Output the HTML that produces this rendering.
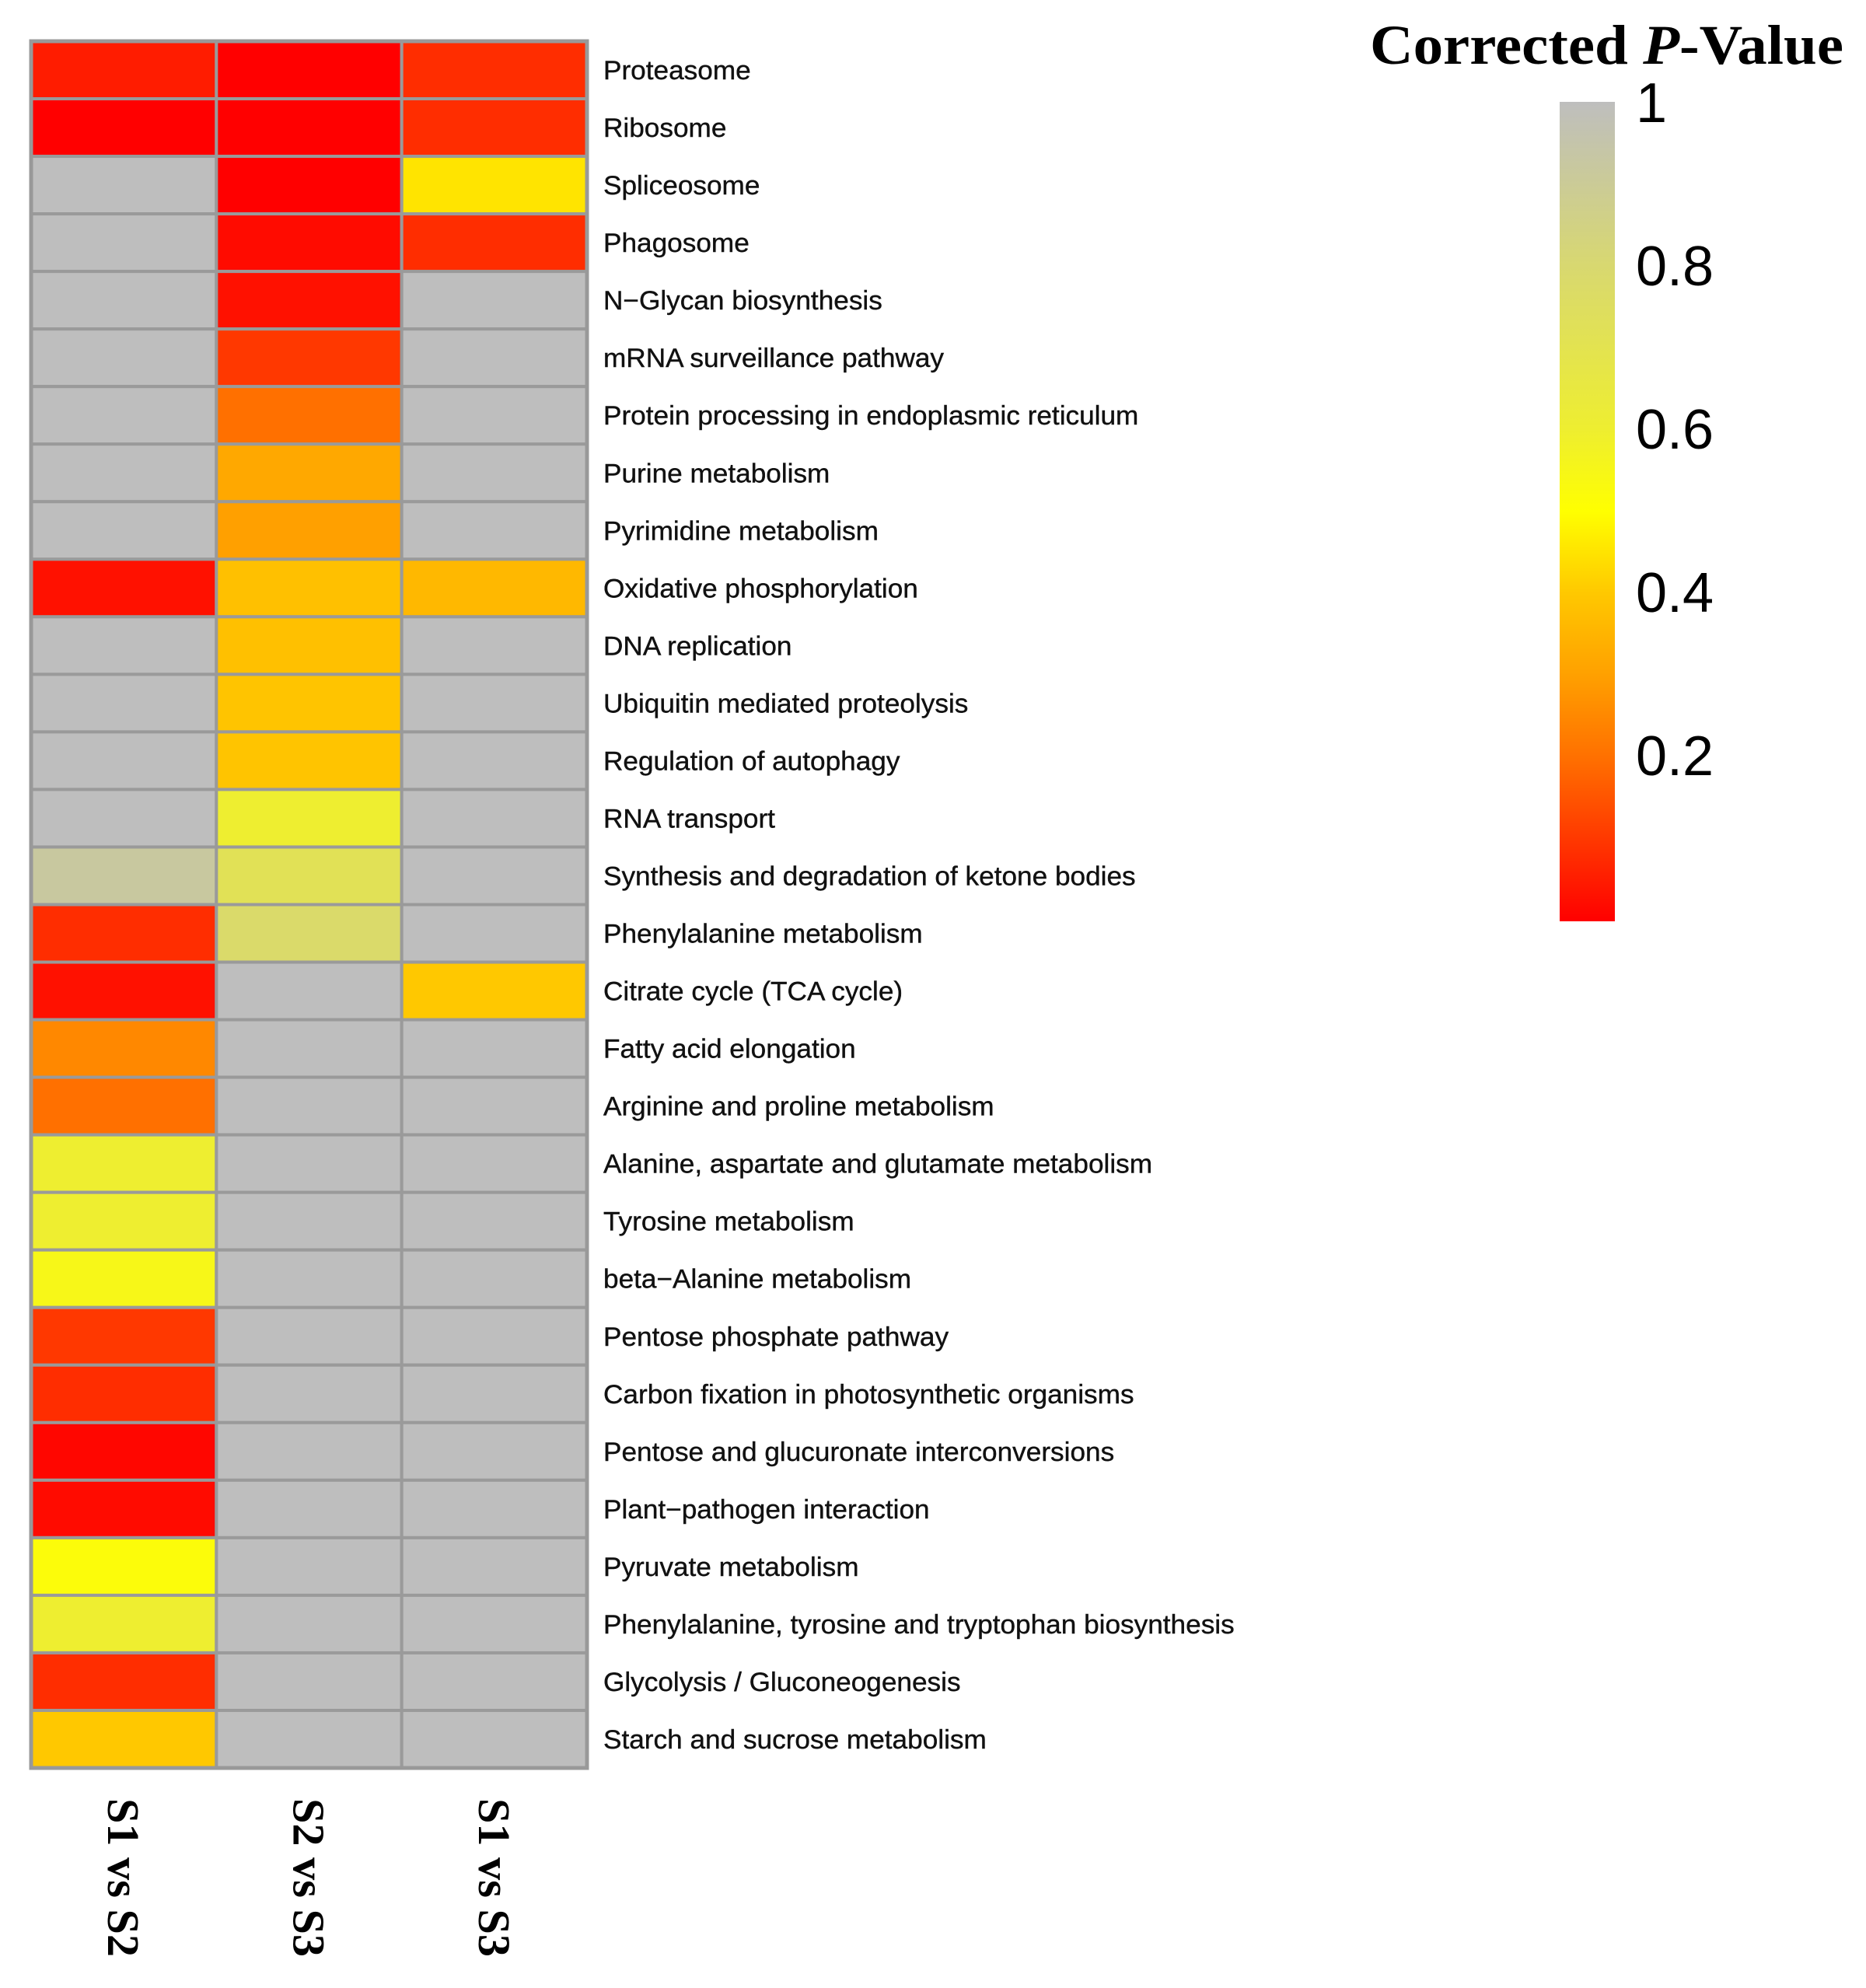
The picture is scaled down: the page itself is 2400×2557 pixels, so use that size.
<!DOCTYPE html>
<html><head><meta charset="utf-8"><style>
html,body{margin:0;padding:0;background:#fff;}
svg{display:block;}
</style></head><body>
<svg id="chart" width="2400" height="2557" viewBox="0 0 2400 2557" xmlns="http://www.w3.org/2000/svg">
<defs>
<linearGradient id="cbar" x1="0" y1="1" x2="0" y2="0">
<stop offset="0" stop-color="#FF0000"/>
<stop offset="0.1" stop-color="#FF3800"/>
<stop offset="0.2" stop-color="#FF7000"/>
<stop offset="0.3" stop-color="#FFA000"/>
<stop offset="0.4" stop-color="#FFC800"/>
<stop offset="0.5" stop-color="#FFFF00"/>
<stop offset="0.6" stop-color="#EEEE30"/>
<stop offset="0.8" stop-color="#D8D870"/>
<stop offset="1" stop-color="#BEBEBE"/>
</linearGradient>
</defs>
<g id="cells"></g>
<g id="rowlabels"></g>
<g id="collabels"></g>
<text x="1762" y="82" font-family="Liberation Serif, serif" font-weight="bold" font-size="72" textLength="609" lengthAdjust="spacingAndGlyphs">Corrected <tspan font-style="italic">P</tspan>-Value</text>
<rect x="2006" y="131" width="71" height="1054" fill="url(#cbar)"/>
<g id="cticks"></g>
</svg>
<script>
const rowNames = ["Proteasome","Ribosome","Spliceosome","Phagosome","N\u2212Glycan biosynthesis","mRNA surveillance pathway","Protein processing in endoplasmic reticulum","Purine metabolism","Pyrimidine metabolism","Oxidative phosphorylation","DNA replication","Ubiquitin mediated proteolysis","Regulation of autophagy","RNA transport","Synthesis and degradation of ketone bodies","Phenylalanine metabolism","Citrate cycle (TCA cycle)","Fatty acid elongation","Arginine and proline metabolism","Alanine, aspartate and glutamate metabolism","Tyrosine metabolism","beta\u2212Alanine metabolism","Pentose phosphate pathway","Carbon fixation in photosynthetic organisms","Pentose and glucuronate interconversions","Plant\u2212pathogen interaction","Pyruvate metabolism","Phenylalanine, tyrosine and tryptophan biosynthesis","Glycolysis / Gluconeogenesis","Starch and sucrose metabolism"];
const colNames = ["S1 vs S2","S2 vs S3","S1 vs S3"];
const s1vsS2 = [0.05,0,1,1,1,1,1,1,1,0.03,1,1,1,1,0.92,0.08,0.03,0.25,0.2,0.6,0.6,0.55,0.1,0.08,0.01,0.02,0.52,0.6,0.08,0.4];
const s2vsS3 = [0,0,0,0.02,0.03,0.1,0.2,0.32,0.3,0.38,0.38,0.39,0.39,0.6,0.72,0.78,1,1,1,1,1,1,1,1,1,1,1,1,1,1];
const s1vsS3 = [0.08,0.08,0.45,0.08,1,1,1,1,1,0.36,1,1,1,1,1,1,0.4,1,1,1,1,1,1,1,1,1,1,1,1,1];
const tickValues = [1,0.8,0.6,0.4,0.2];
const tickLabels = ["1","0.8","0.6","0.4","0.2"];

const NS="http://www.w3.org/2000/svg";
const gx0=40, gx1=755, gy0=53, gy1=2274;
const colW=(gx1-gx0)/colNames.length, rowH=(gy1-gy0)/rowNames.length;
const xCol=i=>gx0+i*colW, yRow=j=>gy0+j*rowH;
const cbTop=131, cbBot=1181;
const yCb=v=>cbBot-(cbBot-cbTop)*v;
const stops=[[0,[255,0,0]],[0.1,[255,56,0]],[0.2,[255,112,0]],[0.3,[255,160,0]],[0.4,[255,200,0]],[0.5,[255,255,0]],[0.6,[238,238,48]],[0.8,[216,216,112]],[1,[190,190,190]]];
function color(v){
  for(let k=1;k<stops.length;k++){
    if(v<=stops[k][0]){const a=stops[k-1],b=stops[k];const t=(v-a[0])/(b[0]-a[0]);
      const c=a[1].map((x,i)=>Math.round(x+(b[1][i]-x)*t));return `rgb(${c.join(',')})`;}
  }
  return 'rgb(190,190,190)';
}
const series=[s1vsS2,s2vsS3,s1vsS3];
const cells=document.getElementById('cells');
series.forEach((vals,ci)=>{
  vals.forEach((v,ri)=>{
    const r=document.createElementNS(NS,'rect');
    r.setAttribute('x',xCol(ci));r.setAttribute('y',yRow(ri));
    r.setAttribute('width',colW);r.setAttribute('height',rowH);
    r.setAttribute('fill',color(v));r.setAttribute('stroke','#9a9a9a');r.setAttribute('stroke-width','4');
    
    
    cells.appendChild(r);
  });
});
const frame=document.createElementNS(NS,'rect');
frame.setAttribute('x',gx0);frame.setAttribute('y',gy0);frame.setAttribute('width',gx1-gx0);frame.setAttribute('height',gy1-gy0);
frame.setAttribute('fill','none');frame.setAttribute('stroke','#999');frame.setAttribute('stroke-width','5');


cells.appendChild(frame);
const rl=document.getElementById('rowlabels');
rowNames.forEach((n,ri)=>{
  const t=document.createElementNS(NS,'text');
  const y=yRow(ri)+rowH/2+12;
  t.setAttribute('transform',`translate(776 ${y}) scale(1.035 1)`);
  t.setAttribute('font-family','Liberation Sans, sans-serif');t.setAttribute('font-size','34');t.setAttribute('fill','#111');
  t.setAttribute('stroke','#111');t.setAttribute('stroke-width','0.4');
  t.textContent=n;
  
  
  rl.appendChild(t);
});
const cl=document.getElementById('collabels');
colNames.forEach((n,ci)=>{
  const t=document.createElementNS(NS,'text');
  const x=xCol(ci)+colW/2-20;
  t.setAttribute('transform',`translate(${x} 2313) rotate(90)`);
  t.setAttribute('font-family','Liberation Serif, serif');t.setAttribute('font-weight','bold');t.setAttribute('font-size','58');
  t.setAttribute('textLength','204');t.setAttribute('lengthAdjust','spacingAndGlyphs');
  t.textContent=n;
  
  
  cl.appendChild(t);
});
const ct=document.getElementById('cticks');
tickValues.forEach((v,i)=>{
  const t=document.createElementNS(NS,'text');
  t.setAttribute('x',2104);t.setAttribute('y',yCb(v)+26);
  t.setAttribute('font-family','Liberation Sans, sans-serif');t.setAttribute('font-size','72');
  t.textContent=tickLabels[i];
  
  
  ct.appendChild(t);
});
</script>
</body></html>
